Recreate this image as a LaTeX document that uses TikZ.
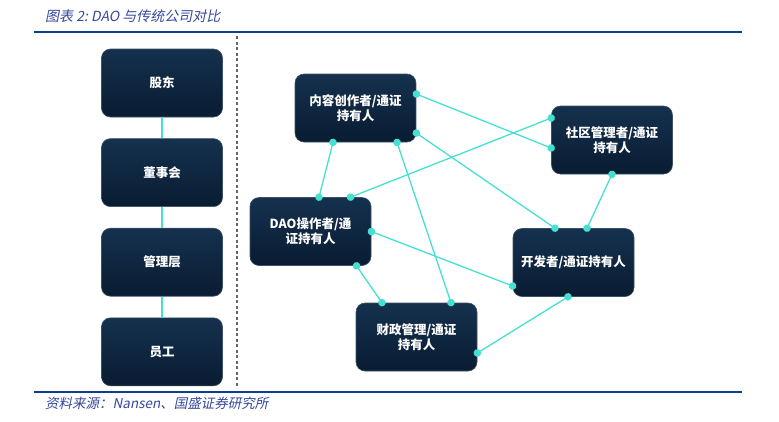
\documentclass[tikz,border=0pt]{standalone}
\usepackage{fontspec}
\newfontfamily\cjk{Noto Sans CJK SC}
\newfontfamily\cjkit{Noto Sans CJK SC}[FakeSlant=0.2]
\usetikzlibrary{arrows.meta, positioning, calc}
\definecolor{navytop}{HTML}{15314E}
\definecolor{navybot}{HTML}{091C32}
\definecolor{navyedge}{HTML}{3C5169}
\definecolor{linkcyan}{HTML}{45E0D2}
\definecolor{reportblue}{HTML}{0D3C93}
\definecolor{titleblue}{HTML}{34489E}

\begin{document}
\begin{tikzpicture}[x=1pt, y=-1pt,
    node distance=21pt,
    role/.style={rectangle, rounded corners=9pt, draw=navyedge, line width=0.6pt, top color=navytop, bottom color=navybot, minimum width=121pt, minimum height=68pt, text=white, align=center, font=\cjk\bfseries\fontsize{12.5}{15}\selectfont},
    chain/.style={linkcyan, line width=2.4pt},
    link/.style={linkcyan, line width=1.3pt, {Circle[length=7.5pt]}-{Circle[length=7.5pt]}, shorten <=-3.7pt, shorten >=-3.7pt},
    rule/.style={reportblue, line width=2pt},
    note/.style={anchor=west, text=titleblue, inner sep=0pt}
]
\useasboundingbox (0,0) rectangle (779,421);

\node[note, font=\cjkit\fontsize{14}{16}\selectfont] (title) at (45,16) {图表 2:\ DAO 与传统公司对比};
\node[note, font=\cjkit\fontsize{13.5}{16}\selectfont] (source) at (45,403) {资料来源：Nansen、国盛证券研究所};
\coordinate (ruletopl) at (34,32);
\coordinate (ruletopr) at (742,32);
\coordinate (rulebotl) at (34,392);
\coordinate (rulebotr) at (742,392);
\draw[rule] (ruletopl) -- (ruletopr);
\draw[rule] (rulebotl) -- (rulebotr);
\coordinate (splittop) at (237,36);
\coordinate (splitbot) at (237,386);
\draw[gray!80!black, line width=1.2pt, dash pattern=on 3pt off 2.5pt] (splittop) -- (splitbot);

\node[role] (gudong) at (162,83) {股东};
\node[role, below=of gudong] (dongshi) {董事会};
\node[role, below=of dongshi] (guanli) {管理层};
\node[role, below=of guanli] (yuangong) {员工};
\draw[chain] (gudong) -- (dongshi);
\draw[chain] (dongshi) -- (guanli);
\draw[chain] (guanli) -- (yuangong);

\node[role] (content) at (355.5,108) {内容创作者/通证\\持有人};
\node[role] (community) at (612,140) {社区管理者/通证\\持有人};
\node[role] (operator) at (310.5,231.5) {DAO操作者/通\\证持有人};
\node[role] (developer) at (573.5,262.5) {开发者/通证持有人};
\node[role] (treasury) at (416.5,337) {财政管理/通证\\持有人};

\draw[link] ($(content.east)+(0,-14)$) -- ($(community.west)+(0,8)$);
\draw[link] ($(operator.north)+(40,0)$) -- ($(community.west)+(0,-22)$);
\draw[link] ($(content.east)+(0,25)$) -- ($(developer.north)+(-18.5,0)$);
\draw[link] ($(content.south)+(41.5,0)$) -- ($(treasury.north)+(34.5,0)$);
\draw[link] ($(content.south)+(-22.5,0)$) -- ($(operator.north)+(8.5,0)$);
\draw[link] (operator.east) -- ($(developer.west)+(0,23.5)$);
\draw[link] ($(operator.south)+(46,0)$) -- ($(treasury.north)+(-34.5,0)$);
\draw[link] ($(developer.south)+(-5.5,0)$) -- ($(treasury.east)+(0,16)$);
\draw[link] (community.south) -- ($(developer.north)+(13.5,0)$);
\end{tikzpicture}
\end{document}
